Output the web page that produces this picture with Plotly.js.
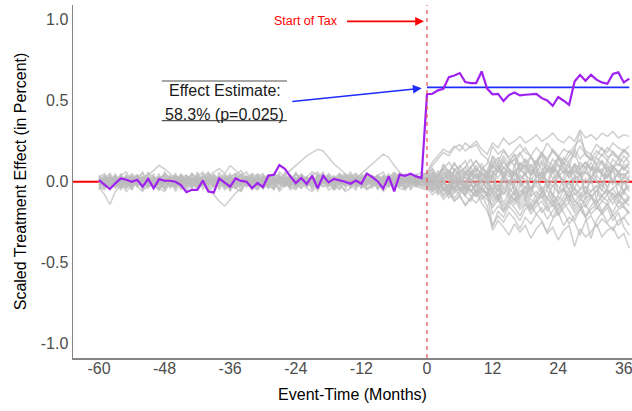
<!DOCTYPE html>
<html>
<head>
<meta charset="utf-8">
<script src="https://cdn.plot.ly/plotly-3.0.1.min.js"></script>
<style>
  html, body { margin: 0; padding: 0; background: #fff; }
  #chart { width: 632px; height: 411px; }
</style>
</head>
<body>
<div id="chart"></div>
<script>
// Event time in months relative to the start of the tax
const months = [-60,-59,-58,-57,-56,-55,-54,-53,-52,-51,-50,-49,-48,-47,-46,-45,-44,-43,-42,-41,
  -40,-39,-38,-37,-36,-35,-34,-33,-32,-31,-30,-29,-28,-27,-26,-25,-24,-23,-22,-21,
  -20,-19,-18,-17,-16,-15,-14,-13,-12,-11,-10,-9,-8,-7,-6,-5,-4,-3,-2,-1,
  0,1,2,3,4,5,6,7,8,9,10,11,12,13,14,15,16,17,18,19,20,21,22,23,24,25,26,27,28,29,30,31,32,33,34,35,36,37];

// Scaled treatment effect of the treated unit
const treated = [
  .01,-.02,-.045,-.01,.02,.012,.0,.012,-.03,.018,
  -.04,.016,.006,.006,.0,-.02,-.064,-.05,-.05,.008,
  -.06,-.066,.02,-.005,-.03,.02,.005,.0,-.04,-.008,
  -.033,.038,.043,.103,.08,.033,-.008,.023,-.014,.037,
  -.04,.037,-.004,.018,.01,.0,-.012,.008,-.012,.05,
  .029,.002,-.043,.033,-.06,.043,.037,.049,.033,.023,
  .541,.543,.564,.574,.646,.656,.671,.615,.609,.609,
  .681,.575,.54,.543,.498,.535,.551,.533,.537,.541,
  .543,.516,.502,.469,.523,.5,.475,.619,.66,.623,
  .66,.63,.613,.605,.665,.675,.613,.636
];

// Average post-period effect and its permutation p-value
const effect = 0.583;
const pValue = 0.025;

// Placebo (donor) units: pre-period values, months -60..-1
const placeboPre = [
  [.01,-.02,.03,.00,-.03,.02,.04,-.01,.00,.02,-.02,.01,.03,-.04,.00,.02,.01,-.02,.03,.00,-.01,.02,-.03,.01,.04,.00,-.02,.01,.03,-.01,.00,-.03,.02,.01,-.02,.04,.00,-.01,.02,.03,-.02,.00,.01,-.04,.02,.03,-.01,.00,.02,-.02,.01,.04,-.03,.00,.02,-.01,.03,.01,-.02,.00],
  [-.02,.01,-.04,.02,.00,-.01,.03,-.03,.01,.00,.02,-.02,-.04,.01,.03,-.01,.00,.02,-.03,.01,.02,-.02,.00,.03,-.01,-.04,.01,.02,-.02,.00,.03,.01,-.03,.02,.00,-.02,.01,.04,-.01,.00,-.03,.02,.01,-.02,.00,.03,-.04,.01,.02,-.01,.00,-.02,.03,.01,-.03,.02,.00,-.01,.02,.01],
  [.03,.00,.02,-.01,.04,.01,-.02,.02,.05,.00,.01,.03,-.01,.02,.04,.01,-.02,.00,.03,.02,-.01,.04,.01,.00,.02,.05,.03,-.01,.02,.00,.04,.02,-.02,.01,.03,.00,.05,.02,.01,-.01,.03,.04,.00,.02,.05,.01,-.01,.03,.02,.00,.04,.01,.03,-.02,.02,.05,.00,.03,.01,.02],
  [-.01,-.03,.00,-.02,.01,-.04,-.01,.00,-.03,.01,-.02,-.05,.00,-.01,.02,-.03,-.01,.00,-.04,-.02,.01,-.03,.00,-.02,-.05,-.01,.01,-.03,-.02,.00,-.04,-.01,.02,-.02,-.03,.00,-.01,-.04,.01,-.02,-.03,.00,-.01,-.05,-.02,.01,-.03,-.01,.00,-.04,-.02,.01,-.01,-.03,.00,-.02,-.04,.00,-.01,-.02],
  [.02,.04,.01,.03,-.01,.02,.00,.04,.02,-.02,.03,.01,.05,.02,.00,.03,.04,.01,-.01,.02,.05,.03,.01,.00,.03,.02,.04,.06,.01,.03,.00,.02,.05,.03,.01,.04,.02,.00,.03,.06,.04,.01,.03,.02,.00,.04,.02,.05,.01,.03,.02,.04,.00,.03,.05,.02,.01,.04,.03,.02],
  [.00,-.02,.02,-.01,.01,.03,-.02,.00,.02,-.03,.01,.00,-.02,.03,.01,-.01,.02,-.03,.00,.01,-.02,.03,.00,-.01,.02,-.02,.01,.03,.00,-.02,.01,.02,-.01,.00,.03,-.02,.01,.00,-.03,.02,.01,-.01,.03,.00,-.02,.01,.02,-.03,.00,.01,.03,-.01,.00,.02,-.02,.01,.00,.02,-.01,.01],
  [.01,.03,-.01,.02,.00,.04,.01,-.02,.03,.01,.00,.02,.04,-.01,.02,.03,.00,.05,.02,-.01,.03,.06,.08,.05,.10,.07,.04,.02,.05,.03,.00,.02,.04,.01,-.02,.03,.01,.04,.02,.00,.03,.01,.05,.02,.00,.03,.04,.01,.02,.05,.03,.00,.04,.02,.06,.03,.01,.04,.02,.03],
  [-.02,.00,-.03,.01,-.01,-.04,.02,-.02,.00,-.03,.01,-.01,-.04,.00,-.02,.02,-.03,-.01,.01,-.02,-.04,.00,-.01,-.03,.02,-.02,.00,-.01,-.04,.01,-.03,-.02,.00,-.01,-.03,.01,-.02,-.04,.00,-.01,.02,-.03,-.02,.00,-.04,-.01,.01,-.02,-.03,.00,-.01,-.04,.01,-.02,.00,-.03,-.01,.01,-.02,-.03],
  [.02,-.01,.00,.03,.01,-.02,.02,.04,.00,-.01,.03,.01,-.02,.00,.02,.04,.01,-.01,.02,.00,.03,-.02,.01,.04,.02,.00,-.01,.03,.01,.02,-.02,.00,.03,.01,.04,-.01,.02,.00,.01,.03,-.01,.02,.04,.00,.01,-.02,.03,.01,.00,.02,-.01,.03,.02,.00,.04,.01,-.01,.02,.03,.00],
  [-.01,.01,-.02,.00,-.03,.01,.00,-.02,.02,-.01,-.03,.00,.01,-.02,.00,-.04,.01,.00,-.02,.02,-.01,-.03,.01,.00,-.02,.01,-.03,.00,.02,-.01,-.02,.00,-.04,.01,-.01,.00,-.02,.02,-.03,.00,-.01,.01,-.02,.00,.02,-.03,-.01,.00,-.02,.01,-.01,.00,-.03,.02,-.01,.00,-.02,.01,-.03,.00],
  [.00,.02,-.01,.01,.03,.00,-.02,.02,.01,-.01,.03,.00,.02,-.02,.01,.03,.00,.02,-.01,.01,.00,.02,.03,.01,-.01,.02,.00,.03,.01,-.02,.02,.00,.01,.03,.04,.07,.10,.13,.16,.18,.20,.19,.15,.11,.08,.05,.03,.01,.02,.00,.03,.01,-.01,.02,.04,.01,.00,.02,-.01,.03],
  [-.03,-.08,-.14,-.06,-.02,.01,-.01,.02,.00,-.02,.01,.03,.00,-.01,.02,.00,-.03,.01,.02,.00,-.01,.03,.01,-.02,.00,.02,.01,-.01,.03,.00,.02,-.02,.01,.03,.00,-.01,.02,.01,.03,.00,-.02,.01,.02,.00,.03,.01,.04,.02,.05,.08,.11,.14,.17,.15,.10,.06,.03,.01,.02,.00],
  [.01,-.01,.02,.00,-.02,.01,.03,-.01,.00,.02,-.02,.01,.00,-.03,.02,.01,-.01,.00,.03,-.02,.01,.00,-.01,.02,-.03,.00,.01,.02,-.01,.00,-.02,.03,.00,-.01,.02,.00,-.03,.01,.02,-.01,.00,.01,-.02,.03,.00,-.01,.02,.00,-.02,.01,.03,.00,-.01,.02,-.02,.00,.01,-.01,.02,.00],
  [.00,.01,.03,-.01,.02,.00,-.02,.01,.03,.00,-.01,.02,.00,.03,-.02,.01,.00,.02,.01,-.01,.03,.00,.02,-.02,.01,.03,.00,-.01,.02,.01,.00,.03,-.01,.02,.00,.01,-.02,.03,.00,.02,.01,-.01,.00,.03,.01,-.02,.02,.00,.01,.03,-.01,.00,.02,.01,-.02,.03,.00,.01,.02,.01],
  [-.02,.00,.01,-.03,-.01,.02,.00,-.02,.01,-.04,.00,.02,-.01,.00,-.03,.01,.02,-.02,.00,-.01,.01,-.03,.00,.02,-.02,-.01,.00,.01,-.03,.02,.00,-.02,.01,-.01,.00,-.03,.02,.00,-.02,.01,.00,-.03,.01,-.01,.02,.00,-.02,.01,-.04,.00,.01,-.02,.00,.02,-.01,-.03,.01,.00,-.02,.01],
  [.01,.00,-.02,.02,.00,-.01,.01,.03,-.01,.00,.02,-.02,.01,.00,-.01,.02,.00,-.03,.01,.02,.00,-.01,.02,.00,-.02,.01,.03,.00,-.01,.01,.00,-.02,.02,.01,-.01,.00,.02,-.01,.01,.00,-.02,.02,.00,.01,-.01,.00,.02,-.02,.01,.00,.01,-.01,.02,.00,-.02,.01,.00,.02,-.01,.00],
  [.02,.00,.03,.01,-.01,.02,.00,.04,.01,.02,-.01,.03,.00,.02,.01,-.02,.03,.01,.00,.02,.04,.01,-.01,.03,.00,.02,.01,.03,.00,-.01,.02,.04,.01,.00,.02,.03,-.01,.01,.02,.00,.04,.02,.00,.03,.01,-.01,.02,.00,.03,.01,.02,.00,-.02,.03,.01,.04,.00,.02,.01,.03],
  [-.01,-.02,.00,-.03,.01,-.01,-.04,.00,-.02,.01,-.03,-.01,.00,-.02,-.04,.01,-.01,-.03,.00,-.02,.01,-.01,-.03,.00,-.02,-.04,.00,-.01,.01,-.03,-.02,.00,-.01,-.04,.00,-.02,.01,-.03,-.01,.00,-.02,-.01,.01,-.03,.00,-.02,-.01,.00,-.03,-.02,.00,-.01,-.04,.01,-.02,.00,-.03,-.01,.00,-.02],
  [.00,.02,.01,-.01,.03,.00,.02,-.02,.01,.04,.07,.10,.08,.05,.02,.00,-.01,.02,.00,-.02,-.05,-.08,-.12,-.15,-.11,-.07,-.04,-.01,.01,.00,.02,-.01,.00,.01,-.02,.00,.02,.01,-.01,.00,.02,.00,-.01,.01,.03,.00,-.02,.01,.00,.02,-.01,.00,.03,.01,-.01,.02,.00,.01,-.02,.00],
  [.01,.02,.00,.03,-.01,.01,.02,.00,.03,.01,-.01,.02,.04,.00,.01,.03,.02,-.01,.01,.03,.00,.02,.01,-.02,.03,.01,.00,.02,.04,.01,.00,.02,-.01,.03,.01,.00,.02,.04,.01,-.01,.02,.00,.03,.01,.02,.00,.04,.02,-.01,.01,.03,.00,.02,.01,.03,.00,.02,.04,.01,.02],
  [-.01,.01,.00,-.02,.02,-.01,.00,.01,-.03,.00,.02,-.01,.01,.00,-.02,.03,.00,-.01,.01,-.02,.00,.02,-.01,.01,-.03,.00,.02,.00,-.01,.01,-.02,.00,.03,-.01,.00,.01,-.02,.02,.00,-.01,.01,.00,-.03,.02,-.01,.00,.01,-.02,.00,.02,-.01,.01,.00,-.03,.01,.00,-.01,.02,.00,-.01],
  [.01,.00,.02,.01,-.01,.00,.03,.01,.00,-.02,.01,.02,.00,.01,-.01,.02,.00,.03,.01,-.01,.00,.02,.01,.00,.03,-.01,.01,.00,.02,.01,-.01,.00,.02,.01,.00,.03,.01,-.01,.00,.02,.01,.00,-.01,.02,.03,.01,.00,-.01,.02,.01,.00,.02,-.01,.01,.00,.03,.01,.00,.02,.01],
  [.04,-.03,.05,.01,-.04,.03,-.05,.02,.06,-.02,.03,-.05,.01,.04,-.03,.05,-.01,-.04,.03,.06,-.02,.04,-.05,.02,.05,-.03,.00,.04,-.04,.03,.05,-.02,-.05,.03,.01,-.04,.05,-.01,.03,-.05,.02,.06,-.03,.04,-.02,-.05,.03,.05,-.01,.02,-.04,.04,.01,-.03,.05,-.02,.03,-.04,.02,.04],
  [-.05,.03,-.02,.05,-.04,.01,.04,-.03,-.06,.02,-.01,.05,-.04,.03,-.06,.00,.04,-.02,.05,-.05,.02,-.03,.06,-.01,-.04,.04,-.06,.03,.01,-.05,.04,-.02,.03,-.05,.06,-.01,-.04,.02,-.03,.05,-.06,.01,.04,-.04,.03,.05,-.02,-.05,.04,-.01,.03,-.05,.02,.04,-.03,.06,-.04,.01,-.02,.03],
  [.03,.05,.00,-.02,.04,.06,.01,-.03,.02,.05,.03,-.01,.06,.02,-.02,.04,.01,.05,-.03,.03,.06,.00,.02,.05,-.02,.04,.07,.01,-.01,.05,.02,.04,-.02,.06,.03,.00,.05,.02,-.01,.04,.06,.01,.03,-.02,.05,.02,.06,.00,.03,.05,.01,.04,.06,-.01,.02,.05,.03,.00,.04,.06],
  [-.03,-.05,.00,-.04,-.01,-.06,-.02,.01,-.05,-.03,.00,-.04,-.06,-.01,-.03,.02,-.05,-.02,-.04,.00,-.06,-.03,.01,-.05,-.02,-.04,-.06,.00,-.03,-.05,-.01,-.04,.01,-.06,-.02,-.03,-.05,.00,-.04,-.06,-.02,.01,-.05,-.03,-.01,-.06,-.04,.00,-.02,-.05,-.03,-.01,-.06,-.02,.00,-.04,-.05,-.01,-.03,-.04],
  [.02,-.04,.03,-.01,.05,-.03,.01,.04,-.02,.00,.05,-.04,.02,-.01,.04,-.05,.03,.00,-.03,.05,.01,-.02,.04,-.04,.02,.00,.05,-.03,.01,.04,-.05,.02,.00,.04,-.02,.03,-.04,.05,.01,-.03,.04,-.01,.02,-.05,.03,.00,-.02,.04,-.04,.05,.00,.03,-.02,.01,-.05,.04,.02,-.03,.05,.00],
  [-.04,.02,.05,-.03,.00,.04,-.05,.03,-.01,.06,-.02,.03,-.05,.01,.05,-.03,.02,-.04,.06,.00,-.03,.05,-.01,.03,-.06,.02,.04,-.02,.05,-.04,.01,.03,-.05,.04,.00,-.03,.06,-.02,.02,-.04,.05,-.01,.03,-.05,.02,.04,-.03,.01,.05,-.02,.03,-.04,.00,.05,-.03,.02,-.05,.04,.01,-.02],
  [.00,.03,-.02,.04,.01,-.03,.05,.02,-.01,.03,-.04,.01,.04,-.02,.03,.00,-.03,.05,.01,-.02,.04,-.01,.02,-.04,.03,.05,-.02,.01,-.03,.04,.00,-.04,.05,.02,-.01,.03,-.03,.04,.00,.02,-.02,.05,.01,-.03,.04,-.01,.02,-.04,.03,.01,-.02,.04,-.03,.02,.00,-.01,.05,.02,-.03,.01],
  [-.02,-.04,.01,-.01,-.05,.02,-.03,.00,-.04,.03,-.02,-.05,.00,.02,-.03,-.01,-.04,.01,-.02,.03,-.05,-.01,.00,-.03,.02,-.04,-.02,.01,-.05,-.01,.02,-.03,-.04,.00,.01,-.05,-.02,.02,-.03,-.01,-.04,.00,.02,-.02,-.05,.01,-.03,-.01,.02,-.04,-.02,.00,-.03,.01,-.04,-.02,.02,-.05,-.01,.00]
];

// Placebo (donor) units: post-period values, months 0..37
const placeboPost = [
  [.02,.05,-.03,.06,.01,-.04,.03,.07,.00,-.02,.05,.03,.10,.06,.12,.08,.05,.11,.09,.04,.13,.07,.10,.06,.14,.09,.05,.11,.08,.12,.07,.10,.13,.06,.09,.11,.08,.12],
  [-.03,.02,-.05,.01,-.06,-.02,.03,-.04,-.01,-.07,-.03,.00,-.08,-.12,-.06,-.10,-.14,-.09,-.05,-.11,-.13,-.07,-.10,-.15,-.09,-.12,-.06,-.11,-.16,-.10,-.08,-.13,-.09,-.12,-.07,-.11,-.14,-.10],
  [.04,.08,.03,.10,.06,.12,.05,.09,.14,.07,.11,.04,.16,.12,.19,.14,.10,.17,.21,.15,.12,.18,.14,.20,.16,.13,.19,.15,.22,.17,.14,.19,.16,.21,.18,.15,.20,.17],
  [-.02,-.05,.01,-.04,-.08,-.03,-.06,.00,-.05,-.09,-.04,-.07,-.02,-.06,.01,-.04,-.08,-.03,.00,-.05,-.02,-.07,-.04,.01,-.03,-.06,-.01,-.05,-.09,-.03,-.06,-.02,-.05,-.08,-.04,-.01,-.06,-.03],
  [.03,.00,.05,.02,.07,.04,.01,.06,.03,.08,.05,.02,.04,.09,.06,.03,.07,.02,.05,.08,.04,.01,.06,.09,.03,.07,.05,.10,.04,.06,.02,.08,.05,.03,.09,.06,.04,.07],
  [.01,-.03,.02,-.05,-.01,-.04,.00,-.06,-.02,-.03,-.07,-.01,-.20,-.15,-.18,-.12,-.16,-.21,-.14,-.17,-.11,-.19,-.15,-.22,-.16,-.13,-.18,-.24,-.17,-.14,-.20,-.16,-.19,-.13,-.21,-.17,-.15,-.19],
  [.05,.10,.14,.18,.16,.21,.23,.19,.22,.25,.20,.17,.24,.21,.27,.23,.25,.28,.24,.26,.29,.25,.27,.30,.26,.24,.28,.25,.32,.27,.29,.26,.30,.28,.31,.27,.29,.28],
  [-.04,-.08,-.05,-.11,-.07,-.12,-.09,-.14,-.10,-.13,-.08,-.15,-.30,-.24,-.28,-.33,-.26,-.31,-.27,-.35,-.29,-.25,-.32,-.28,-.36,-.30,-.27,-.40,-.29,-.34,-.31,-.26,-.34,-.30,-.28,-.35,-.32,-.41],
  [.00,.04,.02,-.02,.05,.01,.03,-.01,.06,.02,.00,.04,.07,.02,.09,.05,.01,.06,.10,.04,.07,.02,.08,.05,.11,.06,.03,.09,.04,.07,.12,.05,.08,.03,.10,.06,.09,.05],
  [-.01,-.04,.00,-.06,-.02,-.05,-.08,-.03,-.06,-.01,-.05,-.09,-.06,-.11,-.04,-.08,-.12,-.07,-.03,-.09,-.06,-.10,-.05,-.13,-.08,-.04,-.10,-.07,-.11,-.06,-.09,-.14,-.08,-.05,-.10,-.07,-.12,-.09],
  [.02,.05,.01,.04,.07,.03,.06,.09,.04,.08,.05,.02,.13,.09,.16,.11,.14,.18,.12,.15,.10,.17,.13,.19,.15,.11,.16,.20,.14,.18,.13,.16,.21,.15,.17,.14,.19,.16],
  [.03,.06,.02,.08,.05,.11,.07,.04,.09,.13,.08,.06,.10,.15,.08,.12,.17,.10,.14,.09,.13,.18,.11,.07,.15,.12,.09,.20,.31,.16,.14,.11,.17,.13,.19,.15,.12,.16],
  [-.02,-.06,-.03,-.09,-.05,-.12,-.08,-.15,-.10,-.07,-.13,-.18,-.27,-.21,-.25,-.19,-.23,-.29,-.22,-.26,-.20,-.24,-.31,-.23,-.19,-.27,-.22,-.25,-.33,-.24,-.21,-.28,-.23,-.26,-.30,-.24,-.22,-.27],
  [.01,.03,-.01,.02,.04,.00,-.02,.03,.01,.05,.02,-.01,.03,-.03,.05,.00,-.02,.04,.01,-.04,.02,.06,.00,-.03,.03,.01,-.05,.02,.04,-.01,.03,.00,-.03,.05,.01,-.02,.03,.00],
  [-.02,.01,-.04,-.01,-.03,.00,-.05,-.02,-.06,-.03,.00,-.04,-.12,-.08,-.15,-.10,-.06,-.13,-.09,-.16,-.11,-.07,-.14,-.10,-.18,-.12,-.08,-.15,-.11,-.13,-.09,-.17,-.12,-.14,-.10,-.16,-.13,-.11],
  [.00,-.02,.01,-.04,-.02,-.05,-.01,-.03,-.06,-.02,-.04,-.07,-.28,-.18,-.22,-.15,-.19,-.24,-.17,-.14,-.20,-.16,-.23,-.18,-.13,-.19,-.26,-.21,-.17,-.22,-.35,-.24,-.19,-.25,-.20,-.27,-.22,-.18],
  [.06,.12,.16,.20,.18,.22,.19,.24,.21,.23,.17,.14,.08,.12,.05,.10,.14,.07,.11,.04,.09,.13,.06,.10,.15,.08,.05,.11,.07,.12,.09,.06,.13,.08,.10,.05,.11,.08],
  [-.03,-.06,-.02,-.08,-.04,-.10,-.06,-.03,-.09,-.05,-.11,-.07,-.04,-.09,-.02,-.07,-.11,-.05,-.08,-.03,-.10,-.06,-.02,-.08,-.12,-.05,-.09,-.04,-.07,-.11,-.06,-.03,-.09,-.05,-.08,-.13,-.06,-.10],
  [.02,-.02,.04,.00,-.04,.03,-.01,.05,.02,-.03,.01,.04,.00,-.05,.03,-.02,.06,.01,-.04,.02,-.01,.04,-.03,.01,.05,-.02,.00,.03,-.05,.02,-.01,.04,.00,-.03,.02,.05,-.01,.01],
  [.02,.06,.03,.08,.12,.07,.10,.05,.09,.13,.08,.11,.22,.17,.20,.15,.19,.23,.18,.16,.21,.17,.24,.19,.15,.20,.18,.22,.26,.19,.17,.23,.20,.18,.24,.21,.19,.22],
  [-.01,-.03,.00,-.05,-.02,-.07,-.04,-.01,-.06,-.09,-.05,-.08,-.16,-.11,-.19,-.14,-.10,-.17,-.13,-.20,-.15,-.12,-.18,-.14,-.21,-.16,-.13,-.19,-.15,-.22,-.17,-.14,-.20,-.16,-.24,-.19,-.28,-.33],
  [.00,.02,.04,.01,.03,-.01,.05,.02,.00,.04,.01,.06,.02,.07,.03,.00,.05,.09,.04,.01,.06,.03,.08,.02,.05,.00,.07,.04,.01,.06,.03,.09,.04,.02,.07,.03,.05,.01],
  [.05,-.04,.07,.02,-.06,.08,.03,-.05,.06,-.02,.09,.04,-.08,.10,.02,-.06,.11,-.03,.07,-.09,.05,.12,-.04,.08,-.07,.03,.10,-.05,.06,-.10,.09,.01,-.06,.11,-.02,.07,-.08,.04],
  [-.04,.05,-.07,.02,.06,-.05,.01,-.08,.04,.07,-.03,-.09,.06,-.11,.03,.08,-.07,.02,-.12,.05,.09,-.06,.01,-.10,.07,-.04,-.13,.03,.08,-.08,.02,-.11,.06,-.05,.09,-.09,.00,-.06],
  [.04,.08,.02,.11,.06,.01,.09,.13,.05,.10,.03,.07,.15,.09,.04,.12,.17,.08,.13,.06,.11,.16,.07,.14,.10,.05,.13,.18,.09,.12,.07,.15,.11,.06,.14,.10,.16,.12],
  [-.05,-.02,-.08,-.04,-.10,-.06,-.03,-.09,-.12,-.05,-.08,-.11,-.14,-.09,-.17,-.12,-.07,-.15,-.11,-.18,-.13,-.09,-.16,-.12,-.20,-.14,-.10,-.17,-.13,-.21,-.15,-.11,-.18,-.14,-.19,-.12,-.16,-.20],
  [.01,.04,-.03,.06,.00,.08,.03,-.02,.07,.02,.05,.00,.11,.06,.14,.08,.03,.12,.07,.16,.09,.04,.13,.10,.06,.15,.11,.05,.12,.08,.17,.10,.06,.13,.09,.14,.07,.11],
  [-.02,.03,-.05,.00,-.07,.02,-.04,-.09,-.01,-.06,.01,-.05,-.10,-.04,-.13,-.07,-.02,-.11,-.06,-.14,-.08,-.03,-.12,-.07,-.15,-.09,-.04,-.13,-.08,-.16,-.10,-.05,-.12,-.08,-.14,-.06,-.11,-.15],
  [.03,-.01,.05,.08,.02,.06,-.02,.04,.09,.03,.07,.01,.05,.10,.02,.07,-.01,.08,.04,.11,.03,.06,.00,.09,.05,.12,.02,.07,.04,.10,.01,.08,.05,.03,.09,.06,.02,.07],
  [-.01,-.05,.02,-.03,-.07,.00,-.04,-.08,-.02,-.06,-.03,.01,-.05,-.02,-.08,.00,-.04,-.09,-.03,-.06,.01,-.05,-.10,-.02,-.07,-.04,.00,-.08,-.05,-.03,-.09,-.06,-.01,-.07,-.04,-.10,-.05,-.02]
];

// Axis ticks
const xTickVals = [-60, -48, -36, -24, -12, 0, 12, 24, 36];
const xTickText = ['-60', '-48', '-36', '-24', '-12', '0', '12', '24', '36'];
const yTickVals = [-1, -0.5, 0, 0.5, 1];
const yTickText = ['-1.0', '-0.5', '0.0', '0.5', '1.0'];

const FONT = 'Arial, "Liberation Sans", sans-serif';
const postMonths = months.filter(m => m >= 0);

const traces = [];

// donor pool lines
placeboPre.forEach((pre, i) => {
  traces.push({
    x: months,
    y: pre.concat(placeboPost[i]),
    type: 'scatter',
    mode: 'lines',
    line: { color: 'rgba(188,188,188,0.72)', width: 1.5 },
    hoverinfo: 'skip'
  });
});

// average post-period effect
traces.push({
  x: [postMonths[0], postMonths[postMonths.length - 1]],
  y: [effect, effect],
  type: 'scatter',
  mode: 'lines',
  line: { color: 'rgb(30,45,250)', width: 1.8 }
});

// treated unit
traces.push({
  x: months,
  y: treated,
  type: 'scatter',
  mode: 'lines',
  line: { color: 'rgb(160,32,240)', width: 2.2 }
});

const labelTop = 0.622, labelBottom = 0.377, labelLeft = -48.5, labelRight = -25.6;

const layout = {
  width: 632,
  height: 411,
  margin: { l: 73, r: 0, t: 5, b: 53 },
  paper_bgcolor: '#fff',
  plot_bgcolor: '#fff',
  showlegend: false,
  font: { family: FONT },
  xaxis: {
    range: [-64.75, 37.5],
    tickvals: xTickVals,
    ticktext: xTickText,
    showgrid: false,
    zeroline: false,
    showline: true,
    linecolor: '#858585',
    linewidth: 1.5,
    ticks: '',
    ticklabeloverflow: 'allow',
    ticklabelstandoff: -5,
    tickfont: { size: 16, color: '#4d4d4d', family: FONT },
    title: { text: 'Event-Time (Months)', font: { size: 16, color: '#000', family: FONT }, standoff: 13 }
  },
  yaxis: {
    range: [-1.088, 1.091],
    tickvals: yTickVals,
    ticktext: yTickText,
    showgrid: false,
    zeroline: false,
    showline: true,
    linecolor: '#858585',
    linewidth: 1.5,
    ticks: '',
    tickfont: { size: 16, color: '#4d4d4d', family: FONT },
    title: { text: 'Scaled Treatment Effect (in Percent)', font: { size: 16, color: '#000', family: FONT }, standoff: 10 }
  },
  shapes: [
    // zero reference line
    { type: 'line', xref: 'paper', x0: 0, x1: 1, yref: 'y', y0: 0, y1: 0,
      line: { color: 'rgb(255,0,0)', width: 2 }, layer: 'below' },
    // start of tax
    { type: 'line', xref: 'x', x0: 0, x1: 0, yref: 'paper', y0: 0, y1: 1,
      line: { color: 'rgb(232,80,80)', width: 1.2, dash: '4px,4px' }, layer: 'above' },
    // rules around the estimate label
    { type: 'line', xref: 'x', x0: labelLeft, x1: labelRight, yref: 'y', y0: labelTop, y1: labelTop,
      line: { color: '#8a8a8a', width: 1.3 } },
    { type: 'line', xref: 'x', x0: labelLeft, x1: labelRight, yref: 'y', y0: labelBottom, y1: labelBottom,
      line: { color: '#555', width: 1.3 } }
  ],
  annotations: [
    { x: -22.1, y: 0.99, xref: 'x', yref: 'y', text: 'Start of Tax', showarrow: false,
      font: { size: 12.5, color: 'rgb(255,0,0)', family: FONT }, xanchor: 'center', yanchor: 'middle' },
    { x: -0.55, y: 0.99, ax: -14.9, ay: 0.99, xref: 'x', yref: 'y', axref: 'x', ayref: 'y',
      text: '', showarrow: true, arrowhead: 2, arrowsize: 1.1, arrowwidth: 1.6, arrowcolor: 'rgb(255,0,0)',
      standoff: 0, startstandoff: 0 },
    { x: -37.0, y: 0.566, xref: 'x', yref: 'y', text: 'Effect Estimate:', showarrow: false,
      font: { size: 16, color: '#1a1a1a', family: FONT }, xanchor: 'center', yanchor: 'middle' },
    { x: -37.0, y: 0.418, xref: 'x', yref: 'y',
      text: (effect * 100).toFixed(1) + '% (p=' + pValue.toFixed(3) + ')', showarrow: false,
      font: { size: 16, color: '#1a1a1a', family: FONT }, xanchor: 'center', yanchor: 'middle' },
    { x: -0.97, y: effect - 0.006, ax: -24.9, ay: 0.494, xref: 'x', yref: 'y', axref: 'x', ayref: 'y',
      text: '', showarrow: true, arrowhead: 2, arrowsize: 1.1, arrowwidth: 1.6, arrowcolor: 'rgb(30,45,250)',
      standoff: 0, startstandoff: 0 }
  ]
};

Plotly.newPlot('chart', traces, layout, { staticPlot: true, displayModeBar: false });
</script>
</body>
</html>
